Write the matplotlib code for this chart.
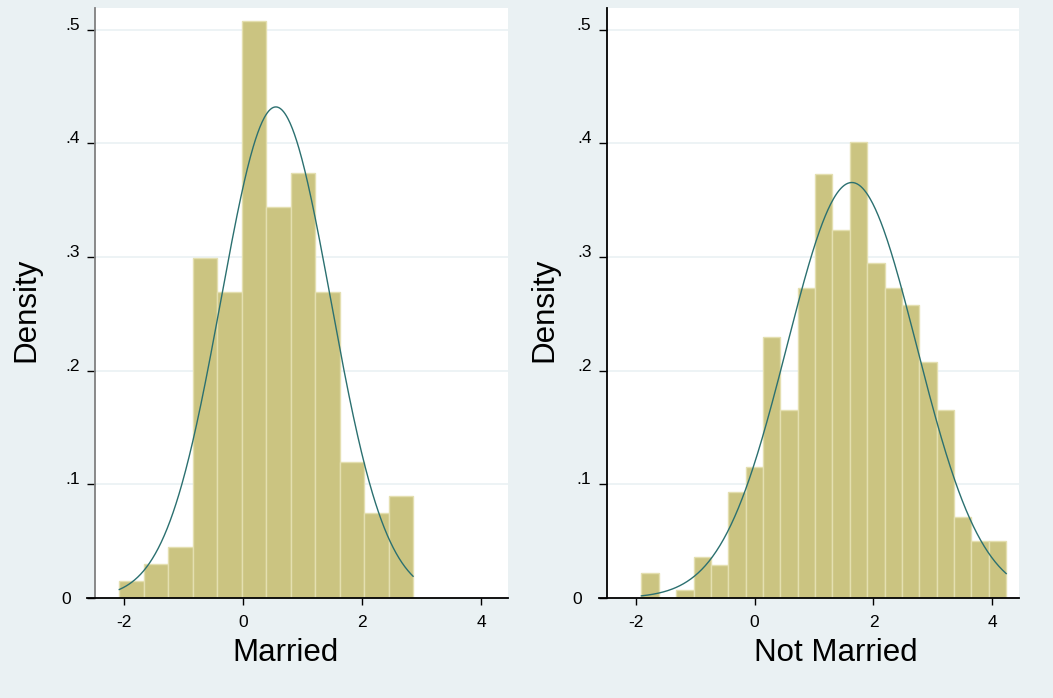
import numpy as np
import matplotlib
matplotlib.use("Agg")
import matplotlib.pyplot as plt
import matplotlib.transforms as mtransforms

plt.rcParams['font.family'] = ['Liberation Sans', 'DejaVu Sans']

# Married: histogram bins (density scale) and fitted normal
married_start = -2.082
married_width = 0.4114
married_density = [0.015, 0.030, 0.045, 0.299, 0.269, 0.508, 0.344, 0.374,
                   0.269, 0.120, 0.075, 0.090]
married_mean = 0.549
married_sd = 0.9235

# Not married: histogram bins (density scale) and fitted normal
single_start = -1.906
single_width = 0.2924
single_density = [0.0217, 0.0, 0.0072, 0.0361, 0.0289, 0.0934, 0.1148, 0.230,
                  0.165, 0.2728, 0.3727, 0.3233, 0.4014, 0.2943, 0.2728,
                  0.2581, 0.2079, 0.165, 0.0716, 0.0505, 0.0505]
single_mean = 1.636
single_sd = 1.0915

x_labels = ["Married", "Not Married"]
y_label = "Density"
x_ticks = [-2, 0, 2, 4]
y_ticks = [0, 0.1, 0.2, 0.3, 0.4, 0.5]
y_tick_labels = ["0", ".1", ".2", ".3", ".4", ".5"]

BG = "#eaf1f3"
BAR = "#cbc481"
BAR_EDGE = "#e4dfb0"
CURVE = "#2b7070"
TICK_FS = 12.5

fig = plt.figure(figsize=(10.53, 6.98), dpi=100, facecolor=BG)
W, H = 1053, 698
ax_left = fig.add_axes([95 / W, 1 - 598 / H, 413 / W, 590 / H])
ax_right = fig.add_axes([606.7 / W, 1 - 598 / H, 412.3 / W, 590 / H])


def normal_pdf(x, mu, sd):
    return np.exp(-0.5 * ((x - mu) / sd) ** 2) / (sd * np.sqrt(2 * np.pi))


panels = [
    (ax_left, married_start, married_width, married_density, married_mean,
     married_sd, x_labels[0], 0.461, -0.165, "#808080"),
    (ax_right, single_start, single_width, single_density, single_mean,
     single_sd, x_labels[1], 0.556, -0.150, "black"),
]

for (ax, start, width, dens, mu, sd, xlab, xlab_pos, ylab_pos,
     yspine_color) in panels:
    ax.set_facecolor("white")
    n = len(dens)
    edges = start + width * np.arange(n + 1)
    ax.bar(edges[:-1], dens, width=width, align="edge", color=BAR,
           edgecolor=BAR_EDGE, linewidth=1.0, zorder=2)
    xs = np.linspace(edges[0], edges[-1], 400)
    ax.plot(xs, normal_pdf(xs, mu, sd), color=CURVE, linewidth=1.0, zorder=3)

    ax.set_xlim(-2.49, 4.45)
    ax.set_ylim(0, 0.519)
    for yv in y_ticks[1:]:
        ax.axhline(yv, color=BG, linewidth=1.2, zorder=1)

    for side in ("top", "right"):
        ax.spines[side].set_visible(False)
    ax.spines["left"].set_color(yspine_color)
    ax.spines["left"].set_linewidth(1.3)
    ax.spines["bottom"].set_color("black")
    ax.spines["bottom"].set_linewidth(1.3)
    ax.spines["bottom"].set_bounds(-2.625, 4.45)

    ax.tick_params(axis="x", length=5, width=1, pad=7, colors="black")
    ax.tick_params(axis="y", length=6, width=1, pad=5, colors="black")
    ax.set_xticks(x_ticks)
    ax.set_xticklabels([str(v) for v in x_ticks], fontsize=TICK_FS)
    ax.set_yticks(y_ticks)
    ax.set_yticklabels(y_tick_labels, fontsize=TICK_FS)

    for lbl in ax.get_yticklabels():
        if lbl.get_text() == "0":
            lbl.set_va("center")
            lbl.set_transform(lbl.get_transform() + mtransforms.ScaledTranslation(
                -9 / 100, -1 / 100, fig.dpi_scale_trans))
        else:
            lbl.set_va("baseline")

    ax.set_xlabel(xlab, fontsize=22.5)
    ax.xaxis.set_label_coords(xlab_pos, -0.107)
    ax.xaxis.label.set_va("baseline")
    ax.set_ylabel(y_label, fontsize=22.5)
    ax.yaxis.set_label_coords(ylab_pos, 0.488)
    ax.yaxis.label.set_va("center")

fig.savefig("out.png", dpi=100, facecolor=BG)
